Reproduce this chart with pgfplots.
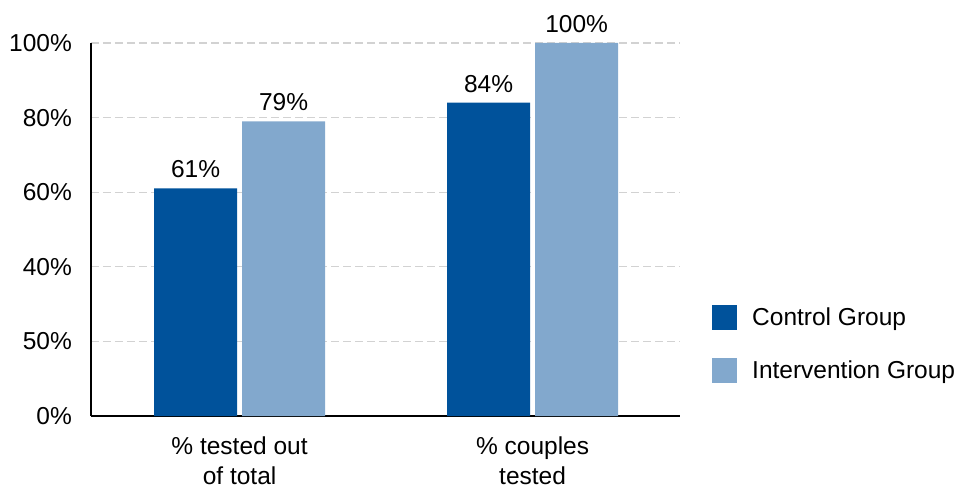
\documentclass[border=0pt]{standalone}
\usepackage{fontspec}
\setmainfont{Liberation Sans}
\usepackage{pgfplots}
\pgfplotsset{compat=1.18}
\usetikzlibrary{calc}
\definecolor{ctrl}{RGB}{0,82,155}
\definecolor{intv}{RGB}{130,168,205}
\definecolor{gridc}{RGB}{210,210,210}
\begin{document}
\begin{tikzpicture}[font=\fontsize{24.5bp}{30bp}\selectfont]
\begin{axis}[
  scale only axis, width=589bp, height=373bp,
  ybar=5bp, bar width=83bp,
  xmin=-0.507, xmax=1.503, ymin=0, ymax=100,
  axis x line*=bottom, axis y line*=left,
  axis line style={black, line width=1.2bp, -},
  major tick length=0pt,
  /pgf/number format/assume math mode=true,
  xtick={0,1},
  xticklabels={{\% tested out\\of total},{\% couples\\tested}},
  xticklabel style={align=center, inner sep=0pt, anchor=north},
  xticklabel shift=21bp,
  ytick={0,20,40,60,80,100},
  yticklabels={0\%,50\%,40\%,60\%,80\%,100\%},
  yticklabel style={inner sep=0pt, anchor=east},
  yticklabel shift=19bp,
  ymajorgrids,
  grid style={gridc, dash pattern=on 8bp off 4bp, line width=1.2bp},
  nodes near coords={\pgfmathprintnumber{\pgfplotspointmeta}\%},
  every node near coord/.append style={anchor=base, inner sep=0pt, yshift=10.5bp, black},
  legend style={at={(rel axis cs:1,0.192)}, anchor=west, xshift=32bp,
    draw=none, inner sep=0pt, row sep=27.5bp, column sep=15bp,
    nodes={inner sep=0pt, text height=17bp, text depth=5bp}},
  legend cell align=left,
]
\addplot[fill=ctrl, draw=none, legend image code/.code={\fill[ctrl] (0bp,-10.25bp) rectangle (25bp,14.75bp);}] coordinates {(0,61) (1,84)};
\addplot[fill=intv, draw=none, legend image code/.code={\fill[intv] (0bp,-10.25bp) rectangle (25bp,14.75bp);}] coordinates {(0,79) (1,100)};
\legend{Control Group, Intervention Group}
\coordinate (sw) at (rel axis cs:0,0);
\coordinate (ne) at (rel axis cs:1,1);
\end{axis}
\pgfresetboundingbox
\path[use as bounding box] ($(sw)+(-91bp,-75bp)$) rectangle ($(ne)+(282bp,43bp)$);
\end{tikzpicture}
\end{document}
